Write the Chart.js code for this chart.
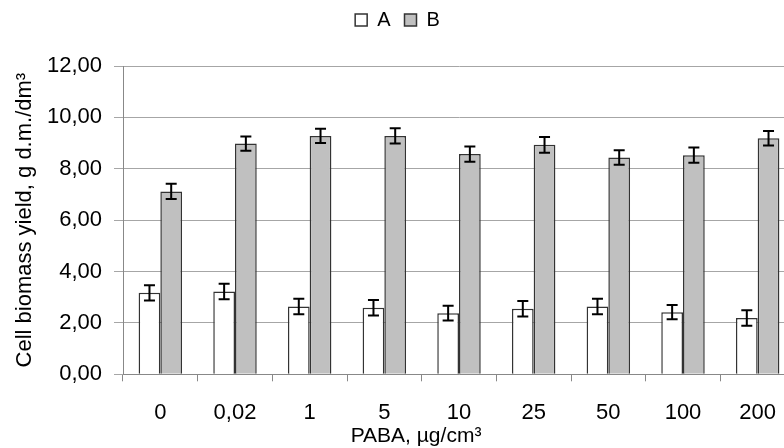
<!DOCTYPE html>
<html>
<head>
<meta charset="utf-8">
<script src="https://cdn.jsdelivr.net/npm/chart.js@4.4.0/dist/chart.umd.min.js"></script>
<style>
  html, body { margin: 0; padding: 0; background: #fff; overflow: hidden; }
  #wrap { width: 796px; height: 448px; }
</style>
</head>
<body>
<div id="wrap"><canvas id="biomassChart"></canvas></div>
<script>
// PABA concentrations on the x axis
const categories = ['0', '0,02', '1', '5', '10', '25', '50', '100', '200'];
// series values and their error bars
const seriesA = [3.17, 3.22, 2.64, 2.59, 2.38, 2.55, 2.64, 2.42, 2.19];
const errorsA = [0.30, 0.30, 0.30, 0.30, 0.29, 0.30, 0.30, 0.28, 0.30];
const seriesB = [7.12, 8.98, 9.28, 9.28, 8.57, 8.93, 8.44, 8.53, 9.19];
const errorsB = [0.30, 0.28, 0.28, 0.30, 0.30, 0.31, 0.28, 0.30, 0.28];
const yTickLabels = ['0,00', '2,00', '4,00', '6,00', '8,00', '10,00', '12,00'];
const yTitle = 'Cell biomass yield, g d.m./dm³';
const xTitle = 'PABA, µg/cm³';

Chart.defaults.font.family = '"Liberation Sans", Arial, sans-serif';
Chart.defaults.color = '#000';

const errorBars = {
    id: 'errorBars',
    afterDatasetsDraw(chart) {
        const ctx = chart.ctx;
        const y = chart.scales.y;
        const errs = [errorsA, errorsB];
        ctx.save();
        ctx.strokeStyle = '#000';
        ctx.lineWidth = 2;
        chart.data.datasets.forEach((ds, i) => {
            chart.getDatasetMeta(i).data.forEach((bar, j) => {
                const top = y.getPixelForValue(ds.data[j] + errs[i][j]);
                const bottom = y.getPixelForValue(ds.data[j] - errs[i][j]);
                ctx.beginPath();
                ctx.moveTo(bar.x, top);
                ctx.lineTo(bar.x, bottom);
                ctx.moveTo(bar.x - 5.5, top);
                ctx.lineTo(bar.x + 5.5, top);
                ctx.moveTo(bar.x - 5.5, bottom);
                ctx.lineTo(bar.x + 5.5, bottom);
                ctx.stroke();
            });
        });
        ctx.restore();
    }
};

// x axis title sits left of the plot centre in the original
const xAxisTitle = {
    id: 'xAxisTitle',
    afterDraw(chart) {
        const { ctx, chartArea } = chart;
        ctx.save();
        ctx.font = '21px "Liberation Sans", Arial, sans-serif';
        ctx.fillStyle = '#000';
        ctx.textAlign = 'center';
        ctx.textBaseline = 'alphabetic';
        ctx.fillText(xTitle, (chartArea.left + chartArea.right) / 2 - 43, chart.height - 6);
        ctx.restore();
    }
};

new Chart(document.getElementById('biomassChart'), {
    type: 'bar',
    data: {
        labels: categories,
        datasets: [
            {
                label: 'A',
                data: seriesA,
                backgroundColor: '#ffffff',
                borderColor: '#333333',
                borderWidth: 1.5,
                categoryPercentage: 0.582,
                barPercentage: 1
            },
            {
                label: 'B',
                data: seriesB,
                backgroundColor: '#c0c0c0',
                borderColor: '#333333',
                borderWidth: 1.5,
                categoryPercentage: 0.582,
                barPercentage: 1
            }
        ]
    },
    options: {
        responsive: true,
        maintainAspectRatio: false,
        animation: false,
        layout: { padding: { top: -4, right: 1, left: 0, bottom: 0 } },
        plugins: {
            legend: {
                labels: { font: { size: 20 }, boxWidth: 12, boxHeight: 12, padding: 14 }
            },
            // empty subtitle used as a gap between legend and plot
            subtitle: {
                display: true,
                text: '',
                weight: 500,
                font: { size: 10 },
                padding: { top: 7, bottom: 7 }
            },
            tooltip: { enabled: false }
        },
        scales: {
            x: {
                grid: { drawOnChartArea: false, tickLength: 7, color: '#888888' },
                border: { color: '#888888' },
                ticks: { font: { size: 22 }, padding: 18, maxRotation: 0, autoSkip: false },
                afterFit(scale) { scale.height = 73.7; }
            },
            y: {
                min: 0,
                max: 12,
                ticks: {
                    stepSize: 2,
                    font: { size: 22 },
                    padding: 12,
                    callback: (v, i) => yTickLabels[i]
                },
                grid: { color: '#a6a6a6', tickLength: 9 },
                border: { color: '#888888' },
                title: {
                    display: true,
                    text: yTitle,
                    font: { size: 22 },
                    padding: { top: 12, bottom: 0 }
                },
                afterFit(scale) { scale.width = 123; }
            }
        }
    },
    plugins: [errorBars, xAxisTitle]
});
</script>
</body>
</html>
